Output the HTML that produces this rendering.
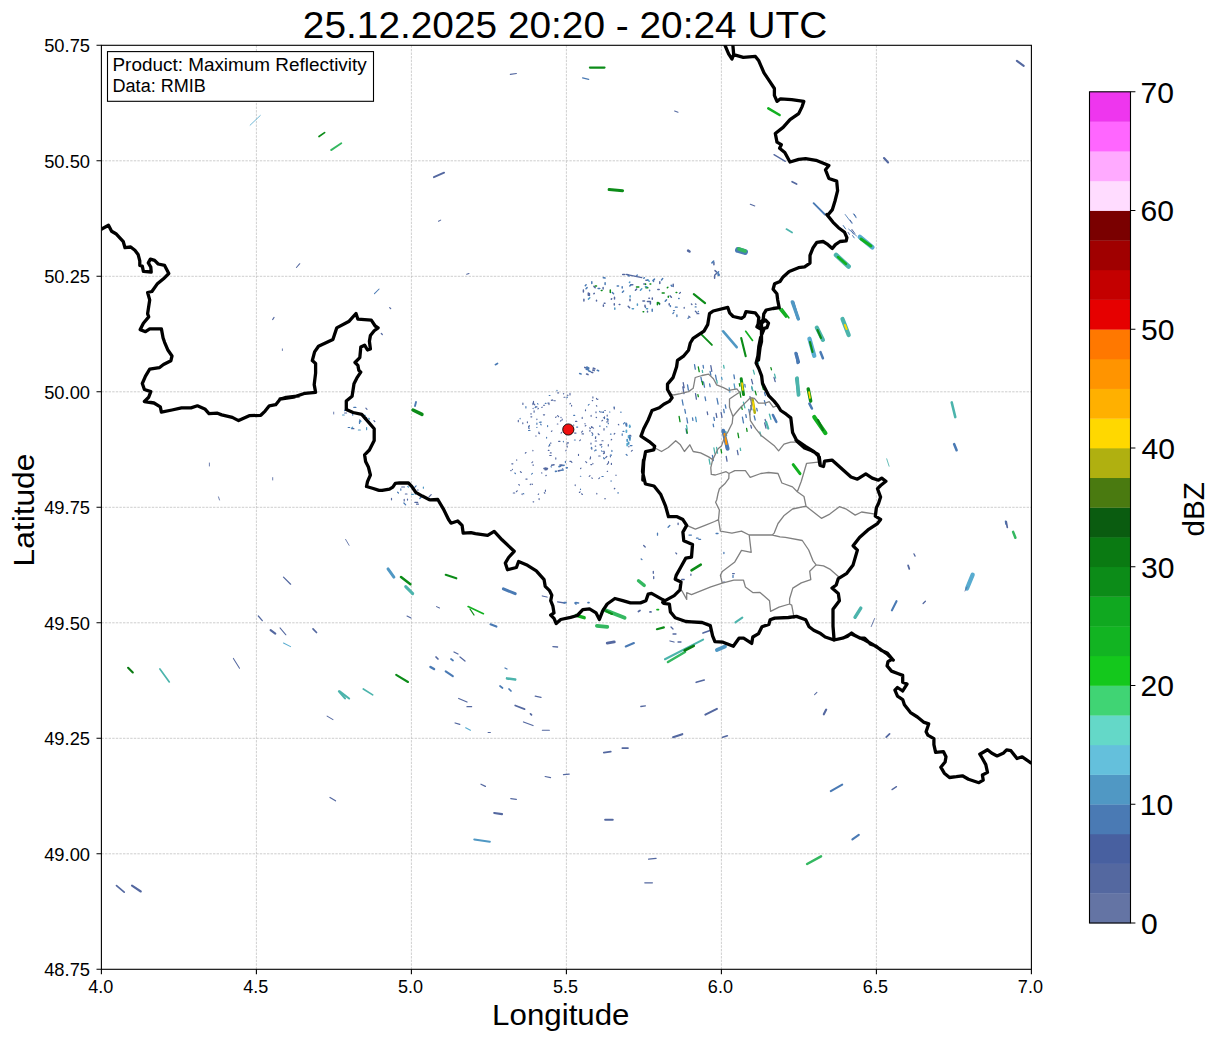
<!DOCTYPE html><html><head><meta charset="utf-8"><style>html,body{margin:0;padding:0;background:#fff;overflow:hidden}svg{display:block}text{font-family:"Liberation Sans",sans-serif;fill:#000}</style></head><body>
<svg width="1219" height="1040" viewBox="0 0 1219 1040">
<rect x="0" y="0" width="1219" height="1040" fill="#fff"/>
<path d="M256.4 45.3V969.3M411.4 45.3V969.3M566.4 45.3V969.3M721.4 45.3V969.3M876.4 45.3V969.3M101.4 853.8H1031.4M101.4 738.3H1031.4M101.4 622.8H1031.4M101.4 507.3H1031.4M101.4 391.8H1031.4M101.4 276.3H1031.4M101.4 160.8H1031.4" stroke="#bdbdbd" stroke-width="0.75" stroke-dasharray="2.4 1.2" fill="none"/>
<path d="M554.2 400.7L555.3 400.7M557.7 392.9L558.6 392.9M563.4 393.9L563.7 393.6M596.5 398.4L596.5 399.0M575.5 421.3L576.9 421.3M551.3 400.1L551.6 400.4M535.7 436.0L536.2 436.0M592.3 427.1L593.3 428.1M547.9 403.1L549.1 403.1M571.1 461.5L571.9 462.3M562.4 468.8L562.8 468.8M555.6 417.4L556.2 416.8M566.8 443.8L566.8 444.2M596.0 411.9L596.0 412.7M537.9 408.8L538.4 408.3M541.8 407.5L542.2 407.1M562.2 419.0L562.2 420.0M560.4 421.1L561.1 420.5M564.0 397.2L565.0 397.2M574.6 433.1L576.0 433.1M558.6 441.3L560.0 441.3M567.6 395.2L567.9 395.5M567.2 446.1L567.2 447.1M539.3 433.6L539.6 433.6M585.5 409.9L585.5 410.7M591.8 432.7L592.7 433.6M578.5 454.2L578.5 455.4M548.8 446.2L549.8 445.1M543.5 405.2L544.6 405.2M567.3 442.9L568.5 442.9M603.4 453.7L604.3 452.9M565.9 450.4L565.9 450.8M582.2 417.4L582.2 418.4M581.6 432.2L582.6 431.2M596.4 405.7L596.8 406.2M591.1 415.4L591.1 416.3M569.9 461.3L571.1 461.3M592.2 400.6L592.7 400.6M592.9 396.9L592.9 397.9M550.3 452.9L551.2 452.9M590.8 464.6L591.7 464.6M585.2 426.0L585.9 425.3M585.7 461.6L586.7 462.6M597.6 399.5L597.9 399.2M533.1 408.2L533.1 408.6M592.9 463.4L592.9 463.8M607.0 421.5L607.0 422.3M543.4 414.8L544.6 414.8M573.5 425.0L573.8 425.2M570.0 393.4L570.0 394.9M534.1 410.8L534.1 412.2M590.5 456.9L590.5 458.2M561.1 433.1L561.7 432.4M584.8 423.7L585.2 423.7M604.8 410.5L605.3 410.5M549.0 403.2L549.0 404.6M571.6 405.3L571.6 406.1M549.7 455.5L551.2 455.5M582.1 433.9L583.5 433.9M555.8 457.9L555.8 459.1M561.0 417.2L561.0 417.6M532.9 450.2L532.9 450.8M600.1 444.3L600.1 445.0M557.6 415.6L558.6 416.7M550.4 443.1L551.0 443.1M591.2 448.5L591.8 449.2M601.9 440.7L603.1 440.7M603.4 451.2L604.4 451.2M580.5 468.6L581.0 468.1M579.7 440.6L580.5 439.8M589.9 430.2L589.9 431.2M589.6 427.8L590.5 428.7M603.5 412.1L603.5 412.5M548.3 450.4L549.0 450.4M551.4 431.4L552.0 430.8M528.5 426.6L529.4 425.6M559.5 465.0L560.9 465.0M538.9 432.0L538.9 433.5M552.4 399.8L552.9 400.3M590.1 458.5L590.1 458.9M557.3 424.0L557.9 424.0M569.9 403.9L570.4 403.4M595.2 441.0L596.6 441.0M530.2 484.6L530.7 484.1M525.3 453.2L526.0 452.5M516.4 491.7L517.2 490.8M541.7 472.8L541.9 473.1M522.1 493.7L522.1 494.6M546.6 468.3L547.7 468.3M539.1 498.5L539.1 499.6M538.2 494.4L538.6 494.0M513.3 493.0L514.7 493.0M532.9 465.1L533.5 465.1M545.8 475.7L546.3 475.3M532.0 484.0L532.5 484.4M520.4 471.6L521.3 472.5M525.9 479.1L527.1 479.1M512.4 469.2L512.4 469.6M533.1 501.8L533.7 501.8M545.4 490.1L545.4 491.3M518.8 484.5L519.4 485.1M511.8 463.8L512.9 463.8M510.7 470.6L511.2 470.6M531.9 462.6L532.7 461.9M516.7 459.8L516.7 460.2M544.3 492.7L544.9 493.2M535.6 406.9L537.0 406.9M530.8 413.9L531.3 413.9M518.3 420.2L518.3 421.7M522.8 422.8L522.8 423.7M533.7 403.7L534.8 404.8M533.5 401.4L533.5 402.8M536.9 419.0L536.9 419.6M522.9 403.0L522.9 404.4M530.9 416.8L531.8 416.8M528.5 427.9L529.2 428.6M527.4 421.8L527.4 422.7M532.9 403.1L532.9 404.6M607.2 471.3L607.6 471.3M579.4 492.5L580.1 491.8M581.6 493.8L582.4 494.5M591.8 477.8L592.3 478.3M598.8 478.6L599.6 477.8M596.8 493.2L596.8 493.9M616.0 475.1L616.0 475.4M575.2 484.7L575.2 485.6M604.6 498.7L605.5 498.7M589.2 476.4L590.0 475.6M614.3 488.8L614.9 488.3" stroke="#5468a0" stroke-width="1.15" stroke-linecap="round" fill="none"/>
<path d="M574.4 440.0L575.3 440.0M536.9 423.1L536.9 424.3M528.9 426.8L529.4 426.8M541.0 421.7L541.0 422.4M599.6 411.4L600.1 412.0M565.4 461.2L565.4 462.6M566.8 397.7L567.5 397.1M595.7 450.1L596.3 450.1M556.9 390.4L557.1 390.7M607.2 418.6L607.2 419.2M563.4 441.4L563.4 441.8M576.6 427.1L577.7 427.1M603.4 417.7L604.3 417.7M573.7 415.4L574.7 415.4M540.6 424.2L541.2 424.9M599.5 426.1L600.2 426.1M528.5 430.5L530.0 430.5M547.6 425.6L547.6 426.6M545.3 403.4L546.0 403.4M549.2 395.5L550.0 395.5M546.6 437.2L546.6 438.1M588.3 405.2L589.1 404.4M549.6 444.4L549.6 445.6M610.4 434.1L611.1 434.1M601.5 447.1L601.9 446.7M602.7 412.3L603.3 411.8M551.0 466.6L551.4 467.0M531.6 474.1L532.4 473.4M514.8 473.0L515.5 473.7M523.3 493.5L523.8 493.9M539.4 422.2L540.4 422.2M537.5 403.7L538.0 404.2M536.8 427.5L537.0 427.3M535.1 407.7L535.8 407.0M520.1 418.3L520.1 418.8M525.9 406.5L525.9 407.9M617.8 492.9L618.4 492.9M580.4 476.2L580.8 476.2M610.8 481.0L611.5 481.0M601.9 476.5L603.2 476.5M580.5 489.1L580.5 489.5" stroke="#4a7ab4" stroke-width="1.15" stroke-linecap="round" fill="none"/>
<path d="M622.2 433.9L622.2 435.3M608.3 423.0L608.3 423.7M623.0 431.4L623.9 431.4M606.6 426.6L606.9 426.9M620.7 412.2L621.1 412.2M607.1 419.3L608.3 419.3M603.9 458.7L604.6 458.7M614.1 406.9L614.1 407.8M603.7 457.5L603.7 458.1M623.5 423.9L624.7 422.7M629.4 436.0L631.1 436.0M591.4 447.5L592.0 448.1M609.5 412.0L609.9 412.0M592.2 435.3L592.8 434.7M601.5 450.9L602.1 451.4M630.3 445.6L632.0 445.6M594.7 450.8L595.4 450.1M595.8 436.8L595.8 437.1M626.2 454.5L627.1 455.3M610.3 455.2L611.5 455.2M611.9 450.4L611.9 451.4M352.7 413.2L352.7 415.2M359.7 420.0L360.4 420.7M348.2 427.5L349.7 427.5M344.6 410.5L345.8 409.3M353.8 407.4L355.9 407.4M359.5 421.2L359.5 423.5M403.9 503.0L405.7 504.8M419.8 498.5L421.3 497.0M397.6 492.2L398.5 493.0M414.7 487.3L416.1 485.9M400.8 488.8L400.8 490.2" stroke="#4a7ab4" stroke-width="1.2" stroke-linecap="round" fill="none"/>
<path d="M611.4 463.4L611.4 464.5M607.9 420.3L607.9 421.3M595.3 446.2L595.7 446.2M614.2 434.0L614.8 433.4M596.1 417.3L596.5 417.6M604.0 428.6L604.0 430.1M595.5 437.2L595.5 438.5M601.9 420.9L602.6 420.3M629.4 435.3L630.6 435.3M607.2 464.3L608.3 463.2M600.9 412.0L601.5 412.0M631.4 451.2L632.3 450.3M614.3 407.5L614.3 409.0M618.4 424.4L618.8 424.8M628.9 446.4L628.9 446.8M591.5 426.6L591.5 427.6M598.7 456.0L600.1 456.0M591.0 443.2L591.0 444.1M598.1 433.8L599.1 434.7M604.5 416.9L604.5 418.6M608.5 461.7L608.5 462.8M605.7 457.6L606.8 456.5M604.2 452.2L604.2 453.2M600.9 445.0L601.6 444.4M610.4 456.4L610.4 456.8M629.5 426.7L630.2 426.7M607.2 415.2L607.2 416.1M611.2 439.9L611.6 439.5M608.3 444.7L608.3 446.0M373.9 420.6L374.8 421.5M351.6 428.7L353.9 428.7M365.9 408.2L367.0 409.3M344.6 413.0L346.6 413.0M364.6 419.3L366.6 417.3M414.9 502.4L417.7 502.4M404.2 499.3L404.2 500.9M401.7 487.0L404.5 487.0M405.4 494.0L407.0 494.0M429.2 496.7L431.2 494.6M417.3 490.0L418.2 490.0M416.5 504.2L418.4 504.2M407.5 499.2L407.5 500.1M391.5 498.3L391.5 499.8" stroke="#5468a0" stroke-width="1.2" stroke-linecap="round" fill="none"/>
<path d="M629.7 425.4L629.7 427.0M626.4 430.3L626.4 432.1M627.2 443.7L627.2 445.6M628.6 435.8L628.6 437.3" stroke="#58acd0" stroke-width="1.8" stroke-linecap="round" fill="none"/>
<path d="M627.2 439.6L627.2 441.0M629.9 436.9L629.9 439.9M628.6 442.5L628.6 443.9" stroke="#5098c4" stroke-width="1.8" stroke-linecap="round" fill="none"/>
<path d="M626.1 423.5L626.1 425.1M626.5 423.9L626.5 425.9M629.6 437.3L629.6 438.3" stroke="#4a7ab4" stroke-width="1.8" stroke-linecap="round" fill="none"/>
<path d="M584.8 367.4L587.2 368.2M591.6 372.2L592.7 372.6M593.3 368.2L594.9 368.8M592.8 370.1L594.2 370.6M587.3 368.3L588.2 368.6M586.6 374.1L588.0 374.6M560.7 465.4L562.1 465.1M545.1 469.7L547.0 469.4M558.4 470.9L560.2 470.5M551.6 465.2L554.0 464.8M544.0 468.5L546.0 468.1" stroke="#5468a0" stroke-width="1.6" stroke-linecap="round" fill="none"/>
<path d="M597.3 370.3L598.6 370.8M588.9 370.9L590.3 371.4M586.3 369.2L588.7 370.0M586.9 367.4L588.8 368.1M586.8 367.1L588.7 367.9M579.7 373.5L581.1 374.0M555.5 471.4L556.5 471.2M561.1 470.3L563.2 470.0M566.4 467.9L567.3 467.7M562.9 465.5L564.1 465.3M559.0 466.6L560.5 466.3" stroke="#4a7ab4" stroke-width="1.6" stroke-linecap="round" fill="none"/>
<path d="M669.2 303.8L669.2 305.1M648.9 298.2L649.4 298.2M603.1 287.4L603.1 289.1M630.8 284.7L632.8 284.7M652.3 298.1L652.3 299.2M596.5 300.3L596.5 301.1M659.5 303.3L659.5 304.6M583.4 290.0L583.4 292.0M630.0 299.3L630.0 300.7M611.3 299.1L611.7 298.7M647.5 311.2L647.5 312.0M657.8 289.5L659.2 289.5M614.3 303.7L614.3 305.0M619.2 304.5L619.9 304.5M643.8 284.1L645.0 284.1M642.9 301.0L644.5 301.0M659.8 281.7L659.8 283.5M645.0 305.2L645.0 306.6M650.4 301.5L650.4 304.0M628.2 306.2L629.6 307.7M614.5 297.3L614.5 299.1M603.4 305.1L603.4 306.2M670.2 295.9L671.4 297.2M593.9 293.7L594.3 293.4M589.4 293.4L589.4 295.4M635.4 290.2L636.6 289.1M647.4 301.6L649.6 301.6M583.9 299.3L583.9 301.1M593.9 286.4L595.2 287.7M645.9 280.2L648.0 280.2M588.3 292.9L588.3 295.2M622.7 274.4L624.5 274.4M604.2 303.3L605.0 303.3M673.2 284.2L673.2 286.6M645.1 306.7L645.5 307.1M714.6 276.3L714.6 278.2M714.7 275.2L716.4 273.5M713.9 262.5L713.9 264.7M715.0 270.6L716.4 271.9" stroke="#5468a0" stroke-width="1.5" stroke-linecap="round" fill="none"/>
<path d="M617.2 286.1L618.5 286.1M612.3 292.5L613.6 293.8M643.8 278.3L644.4 277.7M652.2 309.2L652.2 311.2M665.2 301.2L666.5 299.9M622.4 292.2L623.6 291.0M605.1 282.7L605.1 284.6M627.6 274.6L629.0 276.1M661.5 279.9L662.7 278.6M670.4 305.7L670.4 306.4M653.5 280.4L653.5 281.5M629.8 285.9L630.7 284.9M598.1 288.4L599.8 288.4M671.2 285.4L672.0 286.2M585.3 285.6L586.1 284.8M591.8 281.7L591.8 283.6M622.2 286.7L622.2 288.0M636.8 275.6L637.2 275.1M649.6 290.2L649.6 290.7M652.9 280.6L654.5 279.1M586.0 288.7L587.1 287.6M718.1 272.7L718.1 275.2M719.1 274.2L719.1 275.6M711.9 262.9L713.7 261.1M717.6 272.8L718.6 271.7" stroke="#4a7ab4" stroke-width="1.5" stroke-linecap="round" fill="none"/>
<path d="M643.1 311.8L643.7 311.8M658.2 302.5L659.5 303.7M610.3 290.0L610.3 292.4M676.1 292.5L676.8 292.5M595.3 286.1L596.5 286.1M636.5 287.0L638.8 287.0M645.6 284.0L645.6 284.6M668.3 296.2L668.3 297.2M650.0 283.9L650.8 283.9M601.3 290.6L602.0 290.6M645.9 287.7L647.9 287.7M667.3 287.8L667.9 287.2M662.2 293.0L664.2 293.0M657.4 302.5L657.4 304.7" stroke="#0c8c18" stroke-width="1.5" stroke-linecap="round" fill="none"/>
<path d="M632.2 308.7L633.5 308.7M640.4 290.2L641.8 288.8M637.4 304.0L637.4 305.2M614.8 307.9L614.8 309.2M645.4 286.8L646.9 286.8M629.4 282.5L629.8 282.1M630.1 295.7L630.1 296.9M646.4 308.8L647.6 308.8M588.4 299.1L589.8 297.8M647.7 279.8L649.2 281.3" stroke="#5098c4" stroke-width="1.5" stroke-linecap="round" fill="none"/>
<path d="M672.9 313.5L673.7 312.6M695.2 306.9L696.1 306.9M698.3 311.3L698.3 311.7M688.0 318.3L688.6 317.8M678.6 298.5L679.2 298.5M676.9 314.8L676.9 316.5M675.4 307.2L677.2 307.2M673.5 310.6L674.5 310.6M748.8 409.3L749.8 414.6M713.9 417.4L714.4 420.4M715.5 375.1L716.5 380.4M705.0 396.8L705.7 400.5M712.4 455.4L713.3 460.5M725.3 404.8L725.9 408.1M713.2 424.1L713.6 426.6M733.9 374.8L734.5 378.6M710.1 371.4L710.8 375.1M687.5 384.8L688.4 390.1M709.6 383.8L710.1 386.7M692.5 417.8L692.9 420.4M723.7 409.5L724.2 412.6M686.0 428.7L686.7 433.1M682.2 400.0L683.1 405.0M744.8 384.3L745.2 387.0M703.5 381.9L704.5 387.2M694.5 364.7L695.3 369.2M703.1 365.3L703.5 368.0M684.8 409.3L685.5 413.2M745.8 414.6L746.3 417.4M686.8 418.0L687.6 422.9M717.0 398.5L718.1 404.2M742.4 417.1L743.5 422.9M700.9 377.1L701.8 381.7M751.7 387.5L752.6 390.6M764.4 400.6L765.6 405.1M764.5 392.5L765.4 395.6M754.2 416.0L755.2 420.0M756.7 408.5L757.3 410.9M750.7 405.5L751.9 409.8M696.5 538.2L698.1 538.2M668.1 527.2L669.8 525.5M733.0 575.3L733.0 577.4M689.0 535.1L691.4 535.1M657.5 533.1L657.5 535.2M698.8 539.3L700.6 539.3M716.1 533.5L718.0 533.5M723.9 552.5L723.9 553.6M641.2 558.9L641.9 559.5" stroke="#4a7ab4" stroke-width="1.3" stroke-linecap="round" fill="none"/>
<path d="M688.7 316.1L689.9 317.3M697.0 313.7L698.8 313.7M679.5 293.4L680.4 292.5M695.4 311.2L696.8 312.6M691.4 304.0L691.9 304.5M695.5 303.9L695.9 304.3M684.2 307.5L684.2 308.2M707.2 411.9L707.7 414.5M726.2 456.4L727.0 461.2M695.5 393.7L696.4 399.2M683.4 390.6L684.0 393.6M710.8 365.7L711.8 371.3M682.8 386.8L683.8 392.3M737.3 450.5L738.1 454.7M716.1 413.4L716.8 417.4M683.2 382.6L684.1 387.7M721.1 412.5L722.0 417.3M725.7 444.0L726.6 449.5M765.1 419.5L765.7 421.6M750.0 396.6L751.0 400.2M751.5 379.4L752.7 383.9M750.8 425.3L751.5 428.0M764.7 423.0L766.0 428.1M756.5 363.3L757.5 366.8M774.0 377.3L775.2 381.7M678.1 523.1L678.1 524.5M732.6 573.6L734.3 573.6M723.4 582.1L724.7 582.1M643.7 545.5L645.2 547.0M681.7 579.5L684.2 579.5M690.9 574.1L690.9 575.3M675.8 552.9L676.6 553.7M653.7 576.6L653.7 578.5M653.3 571.3L653.3 573.3" stroke="#5468a0" stroke-width="1.3" stroke-linecap="round" fill="none"/>
<path d="M725.6 441.6L726.1 444.2M723.6 365.3L724.1 368.1M709.1 459.1L710.0 464.1M713.9 448.0L714.9 453.5M686.5 425.4L687.2 429.1M702.3 370.4L702.6 372.4M716.7 380.3L717.2 383.0M716.6 447.5L717.5 453.1M725.8 431.3L726.6 435.6M740.2 448.2L740.6 450.4M743.4 402.2L744.9 407.8M769.4 414.2L770.3 417.3M753.3 370.1L754.4 374.1M774.5 374.1L775.6 378.2M757.6 360.0L758.5 363.4M769.6 414.5L770.9 419.3M759.9 432.0L761.0 436.2M751.7 386.3L752.8 390.3" stroke="#4cb4ac" stroke-width="1.3" stroke-linecap="round" fill="none"/>
<path d="M679.1 416.3L680.0 421.7M737.9 433.1L738.7 437.6M739.3 383.7L739.8 386.1M746.6 428.5L747.1 431.3M697.9 394.6L698.3 396.7M739.9 391.9L740.8 397.2M721.0 449.4L721.6 452.8M698.3 366.8L699.2 371.7M702.1 381.4L702.7 384.7M686.7 429.8L687.3 433.2M741.4 406.3L742.2 409.3M761.9 384.3L763.4 389.7M770.9 367.7L771.5 369.9M755.2 391.2L756.2 394.9" stroke="#0c8c18" stroke-width="1.3" stroke-linecap="round" fill="none"/>
<path d="M695.6 417.1L696.4 421.6M729.2 387.9L729.9 392.2M721.6 377.3L722.0 379.5M734.1 383.8L735.0 389.0" stroke="#5098c4" stroke-width="1.3" stroke-linecap="round" fill="none"/>
<path d="M358.4 430.0L360.3 430.0M363.7 415.3L365.3 415.3M342.6 415.0L344.2 415.0M366.6 427.6L366.6 429.7M368.7 418.3L369.5 419.0M351.4 428.4L352.7 427.1M360.1 422.0L361.0 421.2M415.3 493.2L415.3 494.3M423.4 487.1L423.4 488.2M411.6 494.4L413.3 494.4M407.7 486.3L408.5 487.1" stroke="#5098c4" stroke-width="1.2" stroke-linecap="round" fill="none"/>
<path d="M854.1 214.1L855.7 216.4M851.1 230.6L853.6 234.1M850.1 220.0L852.0 222.8M851.9 229.4L854.8 233.4M848.1 232.4L849.4 234.4" stroke="#5468a0" stroke-width="1" stroke-linecap="round" fill="none"/>
<path d="M843.2 225.5L845.6 228.9M852.6 235.6L854.2 237.9M853.6 214.0L856.2 217.8" stroke="#4a7ab4" stroke-width="1" stroke-linecap="round" fill="none"/>
<path d="M250.1 125.2L260.3 115.5" stroke="#58acd0" stroke-width="0.85" stroke-linecap="round" fill="none"/>
<path d="M319.0 136.5L324.6 132.6" stroke="#0c8c18" stroke-width="1.70" stroke-linecap="round" fill="none"/>
<path d="M331.1 150.1L341.3 143.3" stroke="#34b860" stroke-width="1.87" stroke-linecap="round" fill="none"/>
<path d="M296.4 267.5L299.8 263.7" stroke="#5468a0" stroke-width="1.02" stroke-linecap="round" fill="none"/>
<path d="M433.9 177.2L444.1 172.7" stroke="#5468a0" stroke-width="1.87" stroke-linecap="round" fill="none"/>
<path d="M510.3 74.4L516.4 73.5" stroke="#5468a0" stroke-width="1.10" stroke-linecap="round" fill="none"/>
<path d="M438.5 221.2L440.7 220.1" stroke="#5468a0" stroke-width="1.02" stroke-linecap="round" fill="none"/>
<path d="M466.7 274.3L469.0 273.6" stroke="#5468a0" stroke-width="1.02" stroke-linecap="round" fill="none"/>
<path d="M589.9 67.6L604.5 67.6" stroke="#0c8c18" stroke-width="2.21" stroke-linecap="round" fill="none"/>
<path d="M582.6 77.8L588.7 79.3" stroke="#4a7ab4" stroke-width="1.27" stroke-linecap="round" fill="none"/>
<path d="M674.6 111.0L678.0 112.3" stroke="#5468a0" stroke-width="1.02" stroke-linecap="round" fill="none"/>
<path d="M609.1 189.6L622.6 190.7" stroke="#0c8c18" stroke-width="2.98" stroke-linecap="round" fill="none"/>
<path d="M688.1 250.6L689.5 251.5" stroke="#5468a0" stroke-width="2.55" stroke-linecap="round" fill="none"/>
<path d="M738.0 250.0L745.0 252.0" stroke="#4a7ab4" stroke-width="5.95" stroke-linecap="round" fill="none"/>
<path d="M739.0 249.0L745.0 251.0" stroke="#34b860" stroke-width="3.82" stroke-linecap="round" fill="none"/>
<path d="M768.3 108.3L779.6 115.0" stroke="#12b020" stroke-width="2.55" stroke-linecap="round" fill="none"/>
<path d="M774.0 154.6L785.3 161.4" stroke="#5468a0" stroke-width="1.27" stroke-linecap="round" fill="none"/>
<path d="M792.1 181.7L796.6 184.0" stroke="#5468a0" stroke-width="1.70" stroke-linecap="round" fill="none"/>
<path d="M750.3 204.3L754.8 205.9" stroke="#5468a0" stroke-width="1.10" stroke-linecap="round" fill="none"/>
<path d="M786.4 229.1L792.1 232.5" stroke="#4cb4ac" stroke-width="1.70" stroke-linecap="round" fill="none"/>
<path d="M603.4 277.7L605.0 278.0" stroke="#4a7ab4" stroke-width="1.70" stroke-linecap="round" fill="none"/>
<path d="M626.0 274.3L641.8 277.7" stroke="#5468a0" stroke-width="1.27" stroke-linecap="round" fill="none"/>
<path d="M1016.9 60.8L1023.7 65.8" stroke="#5468a0" stroke-width="2.12" stroke-linecap="round" fill="none"/>
<path d="M884.0 158.0L888.1 162.5" stroke="#5468a0" stroke-width="2.12" stroke-linecap="round" fill="none"/>
<path d="M813.6 203.2L824.9 214.5" stroke="#4a7ab4" stroke-width="1.87" stroke-linecap="round" fill="none"/>
<path d="M845.2 214.5L852.0 223.5" stroke="#4a7ab4" stroke-width="0.85" stroke-linecap="round" fill="none"/>
<path d="M848.6 229.1L856.5 235.9" stroke="#4a7ab4" stroke-width="0.85" stroke-linecap="round" fill="none"/>
<path d="M859.9 237.0L872.3 247.2" stroke="#58acd0" stroke-width="4.67" stroke-linecap="round" fill="none"/>
<path d="M861.0 239.0L871.0 246.0" stroke="#12b020" stroke-width="2.98" stroke-linecap="round" fill="none"/>
<path d="M836.1 255.1L848.6 266.4" stroke="#4cb4ac" stroke-width="4.67" stroke-linecap="round" fill="none"/>
<path d="M838.0 257.0L846.0 264.0" stroke="#12b020" stroke-width="2.55" stroke-linecap="round" fill="none"/>
<path d="M272.7 319.5L274.0 317.5" stroke="#5468a0" stroke-width="1.27" stroke-linecap="round" fill="none"/>
<path d="M282.4 348.9L282.4 350.5" stroke="#5468a0" stroke-width="0.85" stroke-linecap="round" fill="none"/>
<path d="M209.4 463.0L209.4 466.0" stroke="#5468a0" stroke-width="0.85" stroke-linecap="round" fill="none"/>
<path d="M272.7 477.6L272.7 480.0" stroke="#5468a0" stroke-width="0.85" stroke-linecap="round" fill="none"/>
<path d="M218.5 496.9L219.5 500.0" stroke="#5468a0" stroke-width="0.85" stroke-linecap="round" fill="none"/>
<path d="M333.7 412.1L333.7 414.0" stroke="#5468a0" stroke-width="0.85" stroke-linecap="round" fill="none"/>
<path d="M374.5 293.6L379.1 289.0" stroke="#4a7ab4" stroke-width="1.02" stroke-linecap="round" fill="none"/>
<path d="M389.7 307.6L390.7 308.6" stroke="#5468a0" stroke-width="1.27" stroke-linecap="round" fill="none"/>
<path d="M381.3 333.5L382.3 334.5" stroke="#5468a0" stroke-width="1.27" stroke-linecap="round" fill="none"/>
<path d="M413.0 410.0L422.0 414.4" stroke="#0c8c18" stroke-width="3.40" stroke-linecap="round" fill="none"/>
<path d="M415.0 406.0L416.0 402.0" stroke="#4a7ab4" stroke-width="1.87" stroke-linecap="round" fill="none"/>
<path d="M495.4 364.7L497.5 363.5" stroke="#4a7ab4" stroke-width="1.70" stroke-linecap="round" fill="none"/>
<path d="M693.8 294.1L705.1 303.1" stroke="#0c8c18" stroke-width="2.12" stroke-linecap="round" fill="none"/>
<path d="M700.6 333.6L711.9 344.9" stroke="#0c8c18" stroke-width="1.87" stroke-linecap="round" fill="none"/>
<path d="M723.2 331.3L736.7 347.2" stroke="#5098c4" stroke-width="2.55" stroke-linecap="round" fill="none"/>
<path d="M741.2 338.1L745.7 356.2" stroke="#0c8c18" stroke-width="2.12" stroke-linecap="round" fill="none"/>
<path d="M745.7 331.3L752.5 340.4" stroke="#12b020" stroke-width="1.70" stroke-linecap="round" fill="none"/>
<path d="M741.2 378.8L743.5 394.6" stroke="#0c8c18" stroke-width="2.98" stroke-linecap="round" fill="none"/>
<path d="M742.0 383.0L742.8 390.0" stroke="#ffd800" stroke-width="1.70" stroke-linecap="round" fill="none"/>
<path d="M752.5 399.1L754.8 412.7" stroke="#b0b010" stroke-width="2.55" stroke-linecap="round" fill="none"/>
<path d="M753.0 402.0L754.0 409.0" stroke="#ffd800" stroke-width="1.53" stroke-linecap="round" fill="none"/>
<path d="M723.2 430.7L727.7 448.8" stroke="#4a7ab4" stroke-width="3.82" stroke-linecap="round" fill="none"/>
<path d="M724.5 434.0L726.5 444.0" stroke="#ff9400" stroke-width="2.12" stroke-linecap="round" fill="none"/>
<path d="M772.9 415.0L776.3 421.8" stroke="#4a7ab4" stroke-width="2.55" stroke-linecap="round" fill="none"/>
<path d="M766.1 421.8L768.3 428.6" stroke="#4cb4ac" stroke-width="2.12" stroke-linecap="round" fill="none"/>
<path d="M796.6 354.0L797.7 363.0" stroke="#4a7ab4" stroke-width="2.55" stroke-linecap="round" fill="none"/>
<path d="M796.6 378.8L798.8 394.6" stroke="#4cb4ac" stroke-width="3.40" stroke-linecap="round" fill="none"/>
<path d="M797.0 382.0L798.0 390.0" stroke="#0c8c18" stroke-width="1.87" stroke-linecap="round" fill="none"/>
<path d="M793.2 302.0L797.7 317.8" stroke="#4a7ab4" stroke-width="2.55" stroke-linecap="round" fill="none"/>
<path d="M782.0 308.7L788.8 317.8" stroke="#12b020" stroke-width="1.70" stroke-linecap="round" fill="none"/>
<path d="M793.2 464.6L800.0 473.7" stroke="#12b020" stroke-width="2.98" stroke-linecap="round" fill="none"/>
<path d="M792.3 301.9L798.4 319.0" stroke="#5098c4" stroke-width="3.40" stroke-linecap="round" fill="none"/>
<path d="M780.0 309.2L786.1 316.6" stroke="#12b020" stroke-width="2.55" stroke-linecap="round" fill="none"/>
<path d="M842.5 319.0L848.7 335.0" stroke="#4cb4ac" stroke-width="4.25" stroke-linecap="round" fill="none"/>
<path d="M845.0 325.0L846.5 329.0" stroke="#ffd800" stroke-width="2.12" stroke-linecap="round" fill="none"/>
<path d="M816.8 327.6L822.9 339.9" stroke="#4cb4ac" stroke-width="4.25" stroke-linecap="round" fill="none"/>
<path d="M817.5 330.0L821.0 338.0" stroke="#0c8c18" stroke-width="2.12" stroke-linecap="round" fill="none"/>
<path d="M809.4 338.7L814.3 355.8" stroke="#58acd0" stroke-width="4.25" stroke-linecap="round" fill="none"/>
<path d="M810.0 342.0L812.5 352.0" stroke="#0c8c18" stroke-width="2.12" stroke-linecap="round" fill="none"/>
<path d="M820.5 352.1L822.9 358.3" stroke="#4a7ab4" stroke-width="2.55" stroke-linecap="round" fill="none"/>
<path d="M795.9 353.4L798.4 362.0" stroke="#4a7ab4" stroke-width="3.40" stroke-linecap="round" fill="none"/>
<path d="M797.2 377.9L798.4 395.1" stroke="#4cb4ac" stroke-width="3.40" stroke-linecap="round" fill="none"/>
<path d="M808.2 388.9L810.7 401.2" stroke="#0c8c18" stroke-width="3.40" stroke-linecap="round" fill="none"/>
<path d="M809.0 392.0L810.0 398.0" stroke="#ffd800" stroke-width="1.70" stroke-linecap="round" fill="none"/>
<path d="M809.4 403.6L811.9 408.5" stroke="#4a7ab4" stroke-width="2.55" stroke-linecap="round" fill="none"/>
<path d="M814.3 417.1L825.4 433.1" stroke="#12b020" stroke-width="4.25" stroke-linecap="round" fill="none"/>
<path d="M818.0 420.0L823.0 430.0" stroke="#0a7a12" stroke-width="2.12" stroke-linecap="round" fill="none"/>
<path d="M951.7 402.4L955.3 417.1" stroke="#4cb4ac" stroke-width="2.55" stroke-linecap="round" fill="none"/>
<path d="M954.1 444.1L956.6 450.2" stroke="#4a7ab4" stroke-width="2.55" stroke-linecap="round" fill="none"/>
<path d="M886.7 458.8L889.1 466.2" stroke="#4cb4ac" stroke-width="0.85" stroke-linecap="round" fill="none"/>
<path d="M1005.6 521.4L1006.0 524.0" stroke="#4a7ab4" stroke-width="1.70" stroke-linecap="round" fill="none"/>
<path d="M128.1 667.8L132.8 672.5" stroke="#0a7a12" stroke-width="2.12" stroke-linecap="round" fill="none"/>
<path d="M159.9 669.0L169.3 681.9" stroke="#4cb4ac" stroke-width="1.70" stroke-linecap="round" fill="none"/>
<path d="M233.4 658.4L239.5 668.3" stroke="#5468a0" stroke-width="1.02" stroke-linecap="round" fill="none"/>
<path d="M283.5 577.1L290.6 584.2" stroke="#5468a0" stroke-width="1.27" stroke-linecap="round" fill="none"/>
<path d="M258.3 616.0L262.3 620.7" stroke="#5468a0" stroke-width="1.27" stroke-linecap="round" fill="none"/>
<path d="M270.6 630.1L275.3 633.6" stroke="#5468a0" stroke-width="2.12" stroke-linecap="round" fill="none"/>
<path d="M280.0 627.8L285.9 634.8" stroke="#5468a0" stroke-width="1.02" stroke-linecap="round" fill="none"/>
<path d="M283.5 643.0L290.6 646.6" stroke="#58acd0" stroke-width="1.02" stroke-linecap="round" fill="none"/>
<path d="M313.0 628.9L316.5 632.5" stroke="#5468a0" stroke-width="1.70" stroke-linecap="round" fill="none"/>
<path d="M338.9 691.3L345.0 698.4" stroke="#4cb4ac" stroke-width="2.12" stroke-linecap="round" fill="none"/>
<path d="M327.1 716.1L333.0 719.6" stroke="#5468a0" stroke-width="1.02" stroke-linecap="round" fill="none"/>
<path d="M345.6 539.4L349.1 545.3" stroke="#5468a0" stroke-width="0.85" stroke-linecap="round" fill="none"/>
<path d="M388.0 568.9L393.9 577.1" stroke="#5098c4" stroke-width="2.98" stroke-linecap="round" fill="none"/>
<path d="M401.0 577.1L410.4 584.2" stroke="#0c8c18" stroke-width="2.55" stroke-linecap="round" fill="none"/>
<path d="M405.7 586.6L412.7 593.6" stroke="#4cb4ac" stroke-width="2.98" stroke-linecap="round" fill="none"/>
<path d="M445.7 574.8L456.3 578.3" stroke="#0c8c18" stroke-width="2.12" stroke-linecap="round" fill="none"/>
<path d="M468.1 606.6L483.4 613.7" stroke="#12b020" stroke-width="1.70" stroke-linecap="round" fill="none"/>
<path d="M470.0 609.0L474.0 615.0" stroke="#0c8c18" stroke-width="1.27" stroke-linecap="round" fill="none"/>
<path d="M503.4 588.9L515.2 593.6" stroke="#4a7ab4" stroke-width="2.98" stroke-linecap="round" fill="none"/>
<path d="M490.5 624.3L496.4 626.6" stroke="#4a7ab4" stroke-width="2.12" stroke-linecap="round" fill="none"/>
<path d="M436.5 606.6L439.5 608.0" stroke="#5468a0" stroke-width="1.02" stroke-linecap="round" fill="none"/>
<path d="M407.0 616.0L411.0 618.0" stroke="#5468a0" stroke-width="1.02" stroke-linecap="round" fill="none"/>
<path d="M436.0 657.0L438.0 659.0" stroke="#5468a0" stroke-width="1.70" stroke-linecap="round" fill="none"/>
<path d="M451.0 659.0L453.0 660.5" stroke="#4a7ab4" stroke-width="1.70" stroke-linecap="round" fill="none"/>
<path d="M454.0 652.0L458.0 654.0" stroke="#5468a0" stroke-width="1.27" stroke-linecap="round" fill="none"/>
<path d="M460.0 657.0L465.0 661.0" stroke="#5468a0" stroke-width="1.27" stroke-linecap="round" fill="none"/>
<path d="M430.5 667.0L434.0 669.0" stroke="#4a7ab4" stroke-width="2.55" stroke-linecap="round" fill="none"/>
<path d="M445.7 671.4L452.8 676.1" stroke="#4a7ab4" stroke-width="2.12" stroke-linecap="round" fill="none"/>
<path d="M396.2 674.9L408.0 682.0" stroke="#0c8c18" stroke-width="2.12" stroke-linecap="round" fill="none"/>
<path d="M363.3 689.0L372.7 694.9" stroke="#4cb4ac" stroke-width="1.70" stroke-linecap="round" fill="none"/>
<path d="M339.7 691.4L349.1 698.5" stroke="#4cb4ac" stroke-width="2.12" stroke-linecap="round" fill="none"/>
<path d="M507.0 678.4L515.2 679.6" stroke="#4cb4ac" stroke-width="2.55" stroke-linecap="round" fill="none"/>
<path d="M500.0 686.0L502.5 688.0" stroke="#4a7ab4" stroke-width="1.70" stroke-linecap="round" fill="none"/>
<path d="M509.0 689.0L511.0 691.0" stroke="#4a7ab4" stroke-width="1.70" stroke-linecap="round" fill="none"/>
<path d="M505.0 668.0L507.0 669.0" stroke="#4a7ab4" stroke-width="1.27" stroke-linecap="round" fill="none"/>
<path d="M458.7 698.5L467.0 702.0" stroke="#5468a0" stroke-width="1.27" stroke-linecap="round" fill="none"/>
<path d="M467.0 706.7L471.6 706.7" stroke="#5468a0" stroke-width="1.27" stroke-linecap="round" fill="none"/>
<path d="M515.2 705.5L524.6 709.1" stroke="#5468a0" stroke-width="1.70" stroke-linecap="round" fill="none"/>
<path d="M535.2 696.1L541.0 697.3" stroke="#5468a0" stroke-width="1.27" stroke-linecap="round" fill="none"/>
<path d="M530.5 713.8L531.5 714.8" stroke="#5468a0" stroke-width="1.70" stroke-linecap="round" fill="none"/>
<path d="M455.1 723.0L459.8 724.3" stroke="#5468a0" stroke-width="1.27" stroke-linecap="round" fill="none"/>
<path d="M465.7 727.8L470.4 730.2" stroke="#58acd0" stroke-width="1.27" stroke-linecap="round" fill="none"/>
<path d="M523.5 722.0L533.0 725.5" stroke="#5468a0" stroke-width="1.27" stroke-linecap="round" fill="none"/>
<path d="M542.3 730.2L549.4 730.2" stroke="#5468a0" stroke-width="1.02" stroke-linecap="round" fill="none"/>
<path d="M488.1 732.6L490.4 732.6" stroke="#5468a0" stroke-width="1.02" stroke-linecap="round" fill="none"/>
<path d="M542.3 596.0L547.0 597.0" stroke="#5468a0" stroke-width="1.27" stroke-linecap="round" fill="none"/>
<path d="M557.6 601.9L564.7 603.0" stroke="#5468a0" stroke-width="1.27" stroke-linecap="round" fill="none"/>
<path d="M575.0 603.0L576.0 604.0" stroke="#4a7ab4" stroke-width="1.70" stroke-linecap="round" fill="none"/>
<path d="M552.9 646.6L557.6 647.0" stroke="#5468a0" stroke-width="1.27" stroke-linecap="round" fill="none"/>
<path d="M691.5 570.4L700.8 564.6" stroke="#0c8c18" stroke-width="2.55" stroke-linecap="round" fill="none"/>
<path d="M638.5 580.8L644.2 585.4" stroke="#34b860" stroke-width="3.40" stroke-linecap="round" fill="none"/>
<path d="M576.2 615.4L584.2 617.7" stroke="#12b020" stroke-width="3.40" stroke-linecap="round" fill="none"/>
<path d="M603.8 609.6L624.6 617.7" stroke="#34b860" stroke-width="3.82" stroke-linecap="round" fill="none"/>
<path d="M606.0 611.0L612.0 614.0" stroke="#0c8c18" stroke-width="2.12" stroke-linecap="round" fill="none"/>
<path d="M596.9 625.8L607.3 626.9" stroke="#34b860" stroke-width="3.82" stroke-linecap="round" fill="none"/>
<path d="M607.3 643.1L614.2 641.9" stroke="#5468a0" stroke-width="2.98" stroke-linecap="round" fill="none"/>
<path d="M625.8 646.5L633.9 643.1" stroke="#4a7ab4" stroke-width="2.12" stroke-linecap="round" fill="none"/>
<path d="M656.9 629.2L663.9 627.4" stroke="#0c8c18" stroke-width="2.12" stroke-linecap="round" fill="none"/>
<path d="M665.0 659.2L703.1 639.6" stroke="#4cb4ac" stroke-width="2.12" stroke-linecap="round" fill="none"/>
<path d="M668.0 662.0L685.0 652.0" stroke="#34b860" stroke-width="2.55" stroke-linecap="round" fill="none"/>
<path d="M684.6 650.5L693.8 645.9" stroke="#0a7a12" stroke-width="2.55" stroke-linecap="round" fill="none"/>
<path d="M716.9 650.0L725.0 646.5" stroke="#5098c4" stroke-width="3.82" stroke-linecap="round" fill="none"/>
<path d="M703.0 633.0L710.0 630.5" stroke="#5468a0" stroke-width="1.70" stroke-linecap="round" fill="none"/>
<path d="M735.4 622.3L742.3 617.7" stroke="#4cb4ac" stroke-width="2.12" stroke-linecap="round" fill="none"/>
<path d="M696.2 682.3L704.2 680.0" stroke="#5468a0" stroke-width="1.70" stroke-linecap="round" fill="none"/>
<path d="M705.4 714.6L716.9 708.9" stroke="#5468a0" stroke-width="2.12" stroke-linecap="round" fill="none"/>
<path d="M640.8 706.5L645.4 705.8" stroke="#5468a0" stroke-width="1.27" stroke-linecap="round" fill="none"/>
<path d="M673.1 737.2L682.3 734.2" stroke="#5468a0" stroke-width="2.12" stroke-linecap="round" fill="none"/>
<path d="M722.7 737.2L727.3 735.8" stroke="#5468a0" stroke-width="1.70" stroke-linecap="round" fill="none"/>
<path d="M603.8 752.7L610.8 751.6" stroke="#5468a0" stroke-width="1.70" stroke-linecap="round" fill="none"/>
<path d="M622.3 748.1L628.0 748.1" stroke="#5468a0" stroke-width="1.70" stroke-linecap="round" fill="none"/>
<path d="M563.5 774.6L569.2 774.1" stroke="#5468a0" stroke-width="1.27" stroke-linecap="round" fill="none"/>
<path d="M671.0 627.0L673.0 629.0" stroke="#5468a0" stroke-width="1.27" stroke-linecap="round" fill="none"/>
<path d="M673.0 634.0L676.0 634.0" stroke="#5468a0" stroke-width="1.27" stroke-linecap="round" fill="none"/>
<path d="M670.0 641.0L674.0 642.0" stroke="#5468a0" stroke-width="1.27" stroke-linecap="round" fill="none"/>
<path d="M678.0 642.0L681.0 642.0" stroke="#5468a0" stroke-width="1.27" stroke-linecap="round" fill="none"/>
<path d="M564.0 602.6L566.0 602.6" stroke="#4a7ab4" stroke-width="1.70" stroke-linecap="round" fill="none"/>
<path d="M575.8 602.7L578.5 603.0" stroke="#4a7ab4" stroke-width="1.70" stroke-linecap="round" fill="none"/>
<path d="M588.0 602.6L589.0 602.6" stroke="#4a7ab4" stroke-width="1.70" stroke-linecap="round" fill="none"/>
<path d="M638.4 611.5L640.0 610.5" stroke="#5468a0" stroke-width="1.70" stroke-linecap="round" fill="none"/>
<path d="M650.0 611.9L651.0 611.9" stroke="#5468a0" stroke-width="1.70" stroke-linecap="round" fill="none"/>
<path d="M657.0 609.6L658.5 609.6" stroke="#12b020" stroke-width="1.70" stroke-linecap="round" fill="none"/>
<path d="M1006.2 521.5L1007.3 527.3" stroke="#5468a0" stroke-width="1.70" stroke-linecap="round" fill="none"/>
<path d="M1013.1 531.9L1015.4 537.7" stroke="#34b860" stroke-width="2.55" stroke-linecap="round" fill="none"/>
<path d="M972.7 574.6L967.0 588.5" stroke="#58acd0" stroke-width="4.25" stroke-linecap="round" fill="none"/>
<path d="M967.0 587.0L965.0 591.0" stroke="#5468a0" stroke-width="0.85" stroke-linecap="round" fill="none"/>
<path d="M913.9 553.8L915.1 556.1" stroke="#5468a0" stroke-width="1.27" stroke-linecap="round" fill="none"/>
<path d="M908.1 565.4L909.3 568.9" stroke="#5468a0" stroke-width="1.70" stroke-linecap="round" fill="none"/>
<path d="M896.5 601.2L891.9 610.4" stroke="#4a7ab4" stroke-width="2.12" stroke-linecap="round" fill="none"/>
<path d="M925.4 601.2L923.1 603.5" stroke="#5468a0" stroke-width="1.27" stroke-linecap="round" fill="none"/>
<path d="M860.8 608.1L855.0 617.3" stroke="#4cb4ac" stroke-width="3.40" stroke-linecap="round" fill="none"/>
<path d="M874.6 618.5L871.2 626.6" stroke="#5468a0" stroke-width="0.85" stroke-linecap="round" fill="none"/>
<path d="M816.9 692.3L814.6 694.6" stroke="#5468a0" stroke-width="1.02" stroke-linecap="round" fill="none"/>
<path d="M826.2 709.6L823.8 714.3" stroke="#5468a0" stroke-width="2.12" stroke-linecap="round" fill="none"/>
<path d="M889.6 733.8L886.2 737.2" stroke="#5468a0" stroke-width="1.70" stroke-linecap="round" fill="none"/>
<path d="M116.5 885.6L124.2 892.2" stroke="#5468a0" stroke-width="1.70" stroke-linecap="round" fill="none"/>
<path d="M132.0 885.6L140.8 891.5" stroke="#5468a0" stroke-width="2.12" stroke-linecap="round" fill="none"/>
<path d="M330.0 797.5L335.5 800.8" stroke="#5468a0" stroke-width="1.27" stroke-linecap="round" fill="none"/>
<path d="M474.3 839.5L489.8 841.7" stroke="#5098c4" stroke-width="2.12" stroke-linecap="round" fill="none"/>
<path d="M494.2 813.0L502.0 814.1" stroke="#5468a0" stroke-width="2.12" stroke-linecap="round" fill="none"/>
<path d="M481.0 784.2L485.4 786.4" stroke="#5468a0" stroke-width="1.27" stroke-linecap="round" fill="none"/>
<path d="M510.8 798.6L516.3 799.3" stroke="#5468a0" stroke-width="1.27" stroke-linecap="round" fill="none"/>
<path d="M545.1 776.5L550.6 777.6" stroke="#5468a0" stroke-width="1.10" stroke-linecap="round" fill="none"/>
<path d="M807.1 864.0L821.0 856.4" stroke="#34b860" stroke-width="2.55" stroke-linecap="round" fill="none"/>
<path d="M830.8 791.1L842.2 784.7" stroke="#4a7ab4" stroke-width="2.12" stroke-linecap="round" fill="none"/>
<path d="M852.4 839.4L858.8 834.9" stroke="#4a7ab4" stroke-width="2.12" stroke-linecap="round" fill="none"/>
<path d="M892.0 789.6L896.5 786.6" stroke="#5468a0" stroke-width="1.27" stroke-linecap="round" fill="none"/>
<path d="M605.2 819.8L612.7 819.8" stroke="#5468a0" stroke-width="2.12" stroke-linecap="round" fill="none"/>
<path d="M648.6 859.1L656.1 858.3" stroke="#5468a0" stroke-width="1.27" stroke-linecap="round" fill="none"/>
<path d="M644.8 882.8L652.4 882.8" stroke="#5468a0" stroke-width="1.27" stroke-linecap="round" fill="none"/>
<path d="M671.0 394.0 L673.6 395.0 L680.4 393.6 L688.5 391.6 L693.2 388.3 L694.5 381.5 L695.2 377.5 L701.9 375.5 L708.6 374.1 L713.4 378.8 L716.7 384.9 L723.4 387.6 L728.8 390.3 L736.9 388.9 L739.6 392.3 L734.2 395.7 L729.5 399.0 L729.5 407.1 L732.9 416.5 L732.2 423.3 L728.2 431.3 L724.8 436.7 L721.4 446.1 L718.1 448.8 L712.7 459.6 M654.7 447.0 L655.5 448.2 L661.5 451.5 L668.3 447.5 L675.7 440.8 L680.4 444.8 L684.4 451.5 L689.8 444.8 L693.2 451.5 L700.6 452.9 L708.6 456.9 L712.7 459.6 L710.8 467.7 L711.3 474.4 L715.4 475.0 L726.1 471.7 L729.0 473.5 L734.8 470.6 L745.4 470.6 L750.2 477.3 L760.8 473.5 L768.5 472.5 L778.0 473.5 L781.9 483.0 L792.5 486.9 L797.3 491.7 L804.0 496.5 L806.0 506.2 L792.5 509.0 L783.8 515.8 L778.0 523.5 L774.2 533.1 L772.3 535.0 M729.0 473.5 L728.8 478.4 L724.8 483.8 L719.4 488.8 L718.1 493.2 L716.7 500.0 L715.6 502.3 L719.4 510.0 L718.5 519.6 L720.4 531.2 L731.9 533.1 L741.5 531.2 L749.2 535.0 L772.3 535.0 L780.0 536.9 L785.4 537.4 L802.3 540.5 L808.7 550.0 L812.9 560.6 L816.1 564.9 L823.5 565.9 L829.8 569.1 L837.2 575.4 L840.0 578.0 M686.7 525.4 L695.4 529.2 L705.0 525.4 L714.6 521.5 L718.5 519.6 M749.2 535.0 L751.2 552.3 L741.5 550.4 L734.8 561.9 L722.3 571.5 L720.4 575.4 L722.3 583.1 L710.8 586.9 L691.5 594.6 L686.7 592.7 L686.7 599.4 L681.9 590.8 L680.0 589.8 M722.3 583.1 L733.8 580.2 L743.5 580.2 L745.4 586.9 L753.1 592.7 L760.0 592.4 L769.5 600.8 L770.6 611.4 L779.0 607.2 L789.6 604.0 L791.7 605.1 L793.9 616.7 L794.0 619.0 M816.1 564.9 L809.7 571.2 L810.8 579.7 L801.3 582.9 L792.8 588.1 L789.6 598.7 L789.6 604.0 M797.3 491.7 L801.3 481.3 L804.4 470.7 L806.6 463.3 L818.2 462.2 L820.0 462.0 M806.0 506.2 L821.4 518.3 L829.8 514.1 L839.4 506.7 L845.7 508.8 L855.2 515.1 L861.6 512.0 L875.3 514.1 M732.9 416.5 L739.6 408.5 L745.0 403.1 L750.4 397.7 L754.4 398.4 L758.4 403.1 L765.2 403.1 L769.2 401.7 L773.2 407.1 L777.0 406.0 M750.4 397.7 L751.7 404.4 L749.7 413.8 L750.4 420.6 L755.7 428.6 L761.1 435.4 L767.9 440.8 L774.6 446.1 L778.6 450.8 L784.0 444.1 L790.7 442.1 L794.8 442.1 L797.0 442.0" stroke="#808080" stroke-width="1.3" fill="none" stroke-linejoin="round"/>
<clipPath id="ax"><rect x="101.4" y="45.3" width="930.0000000000001" height="924.0"/></clipPath>
<path d="M101.7 229.0 L108.5 225.2 L111.6 231.2 L115.9 233.7 L123.3 241.7 L125.0 247.7 L130.7 247.0 L134.9 250.2 L138.1 254.4 L139.8 260.8 L139.8 265.4 L142.3 266.1 L143.4 271.4 L151.2 272.0 L150.8 267.1 L148.3 262.9 L150.4 259.1 L154.6 260.4 L158.2 264.0 L164.6 265.4 L168.8 273.5 L163.5 278.8 L157.1 284.1 L151.9 291.5 L147.6 292.5 L149.7 299.9 L147.6 313.7 L148.7 316.9 L143.4 323.2 L140.2 329.6 L145.5 331.7 L149.7 328.9 L161.4 328.9 L163.1 338.0 L164.6 342.3 L167.7 349.7 L172.0 356.0 L170.9 360.7 L163.5 364.5 L159.3 367.7 L149.7 369.2 L145.5 376.1 L142.3 383.5 L144.4 389.5 L150.8 391.6 L148.7 397.3 L144.4 401.5 L154.0 403.0 L160.3 406.8 L161.4 412.1 L172.0 410.0 L181.5 407.9 L191.0 407.9 L197.4 405.8 L204.8 408.9 L209.0 413.6 L217.5 413.2 L221.7 414.9 L232.3 417.4 L238.6 420.6 L249.2 415.7 L260.8 415.3 L265.1 411.1 L269.3 405.8 L275.7 404.7 L279.9 399.4 L286.2 397.3 L298.9 395.8 M280.0 399.0 L293.5 397.1 L305.0 393.3 L315.6 392.3 L314.2 384.6 L315.6 373.1 L315.6 363.5 L312.3 360.6 L314.6 351.9 L318.5 346.2 L332.9 339.4 L336.7 327.9 L349.2 321.2 L356.0 313.5 L357.9 319.2 L371.3 320.2 L375.2 326.0 L378.1 327.9 L374.2 330.8 L370.4 335.6 L369.4 341.3 L370.4 349.0 L367.5 350.0 L364.6 345.2 L360.8 347.1 L359.8 357.7 L355.0 362.5 L357.9 365.4 L358.8 370.2 L360.8 372.1 L356.9 377.9 L354.0 383.7 L352.1 396.2 L346.3 401.0 L346.3 409.6 L353.1 412.5 L361.7 414.4 L368.5 422.1 L374.2 428.8 L374.2 440.4 L369.4 450.0 L364.6 454.8 L365.6 461.5 L368.5 467.3 L370.4 475.0 L367.5 481.7 L366.5 486.5 L373.3 488.5 L379.0 490.4 M379.0 490.4 L382.1 490.4 L389.5 489.1 L392.8 487.1 L395.3 483.4 L399.4 482.8 L408.4 483.0 L411.7 486.3 L415.8 492.4 L422.3 496.1 L430.0 499.9 M430.0 499.9 L437.8 499.5 L443.3 508.8 L448.8 519.9 L451.0 523.2 L457.7 521.0 L462.1 525.4 L463.2 533.2 L471.0 532.7 L475.4 533.6 L487.6 535.4 L494.2 531.4 L502.0 539.8 L514.2 551.3 L508.6 557.5 L505.3 563.1 L507.5 569.7 L516.4 567.5 L518.6 561.5 L527.5 565.3 L536.3 570.8 L544.1 579.7 L545.2 586.3 L549.6 590.7 L551.8 595.2 L550.7 600.7 L552.9 606.2 L554.0 612.9 L550.7 615.1 L554.0 618.4 L556.2 623.5 L560.7 619.5 L570.6 617.3 L577.3 615.5 L582.8 609.6 L589.5 608.9 L596.1 612.9 L599.4 619.5 L602.8 610.7 L607.2 604.0 L614.9 598.5 L622.7 600.7 L630.4 602.9 L640.4 602.9 L645.9 600.7 L648.2 594.1 L651.5 593.4 L662.6 599.6 L664.8 600.7 M662.7 602.3 L665.6 600.4 L674.2 595.6 L680.0 589.8 L681.0 582.1 L675.2 579.2 L676.2 575.4 L681.0 566.7 L685.8 558.1 L691.5 557.1 L692.5 544.6 L683.8 540.8 L682.9 532.1 L686.7 525.4 L682.9 519.6 L677.1 516.7 L668.5 516.7 L665.6 506.2 L660.8 494.6 L654.0 486.0 L645.4 484.0 L642.5 471.5 L643.5 460.0 M642.8 480.0 L643.7 461.7 L645.6 451.6 L653.8 449.8 L654.7 446.2 L649.2 441.6 L641.0 436.1 L643.7 428.8 L648.3 419.7 L652.0 410.5 L659.3 407.8 L663.8 404.2 L669.3 401.4 L672.1 397.8 L667.5 389.5 L667.5 384.1 L673.0 377.7 L676.6 366.7 L677.5 360.3 L683.9 355.8 L688.5 350.3 L690.3 343.0 L693.1 338.4 L704.0 331.1 L707.7 324.7 L709.5 313.7 L713.2 311.0 L727.8 307.4 L729.6 312.8 L733.2 316.5 L741.5 318.3 L744.2 316.5 L746.0 311.6 L755.2 312.8 L758.8 317.4 L757.9 326.5 L764.3 328.4 M725.1 45.5 L728.6 53.8 L732.0 59.0 L733.7 54.7 L743.3 57.3 L755.4 56.4 L758.8 60.8 L764.0 72.9 L769.2 80.7 L774.4 88.5 L774.4 95.4 L777.0 101.4 L780.5 98.8 L791.7 99.7 L803.8 101.4 L802.1 106.6 L798.7 113.6 L790.0 119.6 L783.1 127.4 L775.3 133.5 L777.0 142.1 L781.3 144.7 L779.6 148.2 L784.8 152.5 L790.0 162.0 L798.7 159.4 L805.6 158.6 L816.0 160.3 L828.9 165.5 L825.5 169.8 L828.9 178.5 L836.7 181.1 L837.6 190.6 L835.0 201.0 L832.4 209.6 L828.1 214.8 M732.9 45.5 L733.7 54.7 M826.9 214.6 L833.1 222.3 L838.5 227.7 L844.6 232.3 L846.9 237.7 L846.2 240.8 L840.0 241.5 L835.4 244.6 L832.3 248.5 L826.9 243.8 L823.1 241.5 L816.9 242.3 L813.1 247.7 L810.0 255.4 L810.0 263.1 L804.6 266.9 L798.5 267.7 L789.2 271.5 L783.1 276.9 L780.0 281.5 L774.6 283.8 L773.1 289.2 L776.9 293.8 L777.7 300.0 L779.2 307.7 L773.1 308.5 L766.2 310.0 L763.8 313.8 L763.1 320.0 L758.5 323.1 L756.9 326.9 L760.8 329.2 L766.9 327.7 L768.5 323.1 L765.4 320.0 L761.5 323.1 L761.5 332.3 L761.5 341.5 L760.0 347.7 L758.5 360.0 M764.3 328.4 L760.6 337.5 L758.8 346.6 L757.9 355.8 L756.1 363.1 L758.8 368.5 L761.6 375.8 L762.5 383.2 L766.1 390.5 L768.9 395.9 L774.3 401.4 L778.0 406.0 L780.7 410.5 L786.2 414.2 L790.8 417.9 L792.6 432.5 L797.2 441.6 L804.5 448.0 L811.8 450.7 L818.2 454.4 L820.0 465.3 M796.0 440.0 L805.5 446.3 L814.0 451.6 L819.3 456.9 L820.3 465.4 L823.5 466.5 L824.6 461.2 L832.0 460.1 L841.5 468.6 L851.0 477.0 L857.4 479.2 L865.8 473.9 L872.2 478.1 L878.5 480.2 L881.7 478.1 L885.9 481.3 L880.6 485.5 L877.5 488.7 L880.6 497.1 L878.5 503.5 L876.4 507.7 L875.3 516.2 L880.6 519.4 L877.5 523.6 L867.9 529.9 L859.5 537.4 L853.1 545.8 L857.4 550.1 L853.1 564.9 L846.8 573.3 L838.3 578.6 L836.2 585.0 L832.0 588.1 L838.3 593.4 L839.4 600.8 L833.0 609.3 L833.0 626.2 L834.1 640.0 M662.7 602.3 L663.7 603.3 L669.4 604.2 L670.4 611.9 L675.2 617.7 L685.8 621.5 L691.5 621.9 L702.1 622.5 M702.1 622.5 L710.3 625.6 L712.6 635.9 L714.9 641.6 L723.0 642.2 L733.3 646.2 L739.0 638.2 L743.6 638.2 L751.7 643.4 L752.8 637.0 L758.6 633.6 L762.0 626.7 L768.9 624.4 L770.1 619.8 L774.7 618.1 L788.4 617.5 L796.5 616.4 L805.7 619.8 L809.1 626.7 L813.7 630.2 L820.6 633.6 L825.2 637.0 L834.1 640.0 M834.1 640.0 L843.6 637.9 L851.0 633.7 L857.4 636.8 L864.8 640.0 L872.2 644.2 L880.6 649.5 L887.0 653.8 L893.3 660.1 M842.1 638.2 L847.3 636.4 L851.6 633.0 L855.1 635.6 L860.3 638.2 L864.6 638.2 L870.7 644.2 L875.9 646.0 L881.1 650.3 L887.1 652.9 L892.3 659.0 L888.0 661.6 L887.1 665.9 L891.5 671.1 L898.4 673.7 L902.7 675.4 L902.7 682.3 L907.0 684.1 L902.7 691.0 L897.5 687.5 L894.9 690.1 L897.5 696.2 L902.7 699.6 L904.4 704.8 L910.5 712.6 L917.4 717.0 L923.5 722.1 L928.7 723.9 L926.1 731.7 L927.8 735.1 L933.9 738.6 L933.9 744.7 L935.6 752.4 L943.4 751.6 L946.0 756.8 L945.1 762.0 L940.8 767.2 L944.3 773.2 L949.5 777.5 L956.4 776.7 L962.4 775.8 L968.5 779.3 L978.9 782.7 L983.2 780.1 L982.4 775.0 L987.5 772.4 L985.8 764.6 L982.4 758.5 L979.8 754.2 L987.5 749.8 L991.9 753.3 L997.1 755.9 L1003.1 753.3 L1006.6 749.8 L1010.9 750.7 L1017.0 758.5 L1022.2 756.8 L1030.8 762.8" stroke="#000" stroke-width="3.3" fill="none" stroke-linejoin="round" stroke-linecap="round" clip-path="url(#ax)"/>
<circle cx="568.3" cy="429.5" r="5.6" fill="#f01010" stroke="#000" stroke-width="0.9"/>
<rect x="107.5" y="51.6" width="266" height="49.7" fill="#fff" stroke="#000" stroke-width="1.1"/>
<text transform="translate(112.49 70.60) scale(0.1892 0.1826)" font-size="100">Product: Maximum Reflectivity</text>
<text transform="translate(112.56 91.90) scale(0.1805 0.1841)" font-size="100">Data: RMIB</text>
<rect x="101.4" y="45.3" width="930.0000000000001" height="924.0" fill="none" stroke="#000" stroke-width="1.1"/>
<path d="M101.4 969.3v4.9M256.4 969.3v4.9M411.4 969.3v4.9M566.4 969.3v4.9M721.4 969.3v4.9M876.4 969.3v4.9M1031.4 969.3v4.9M101.4 969.3h-4.9M101.4 853.8h-4.9M101.4 738.3h-4.9M101.4 622.8h-4.9M101.4 507.3h-4.9M101.4 391.8h-4.9M101.4 276.3h-4.9M101.4 160.8h-4.9M101.4 45.3h-4.9" stroke="#000" stroke-width="1.1" fill="none"/>
<text transform="translate(88.14 992.80) scale(0.1805 0.1857)" font-size="100">4.0</text>
<text transform="translate(243.14 992.80) scale(0.1805 0.1857)" font-size="100">4.5</text>
<text transform="translate(397.96 992.80) scale(0.1805 0.1857)" font-size="100">5.0</text>
<text transform="translate(552.96 992.80) scale(0.1805 0.1857)" font-size="100">5.5</text>
<text transform="translate(707.87 992.80) scale(0.1805 0.1857)" font-size="100">6.0</text>
<text transform="translate(862.87 992.80) scale(0.1805 0.1857)" font-size="100">6.5</text>
<text transform="translate(1017.87 992.80) scale(0.1805 0.1857)" font-size="100">7.0</text>
<text transform="translate(44.16 976.10) scale(0.1835 0.1857)" font-size="100">48.75</text>
<text transform="translate(44.16 860.60) scale(0.1835 0.1857)" font-size="100">49.00</text>
<text transform="translate(44.16 745.10) scale(0.1835 0.1857)" font-size="100">49.25</text>
<text transform="translate(44.16 629.60) scale(0.1835 0.1857)" font-size="100">49.50</text>
<text transform="translate(44.16 514.10) scale(0.1835 0.1857)" font-size="100">49.75</text>
<text transform="translate(44.16 398.60) scale(0.1835 0.1857)" font-size="100">50.00</text>
<text transform="translate(44.16 283.10) scale(0.1835 0.1857)" font-size="100">50.25</text>
<text transform="translate(44.16 167.60) scale(0.1835 0.1857)" font-size="100">50.50</text>
<text transform="translate(44.16 52.10) scale(0.1835 0.1857)" font-size="100">50.75</text>
<text transform="translate(492.10 1024.80) scale(0.3129 0.3029)" font-size="100">Longitude</text>
<text transform="translate(33.80 566.44) rotate(-90) scale(0.3172 0.3029)" font-size="100">Latitude</text>
<text transform="translate(302.86 38.10) scale(0.3883 0.3786)" font-size="100">25.12.2025 20:20 - 20:24 UTC</text>
<rect x="1089.5" y="893.31" width="41.0" height="29.99" fill="#6474a4"/>
<rect x="1089.5" y="863.63" width="41.0" height="29.99" fill="#5468a0"/>
<rect x="1089.5" y="833.94" width="41.0" height="29.99" fill="#4860a0"/>
<rect x="1089.5" y="804.26" width="41.0" height="29.99" fill="#4a7ab4"/>
<rect x="1089.5" y="774.57" width="41.0" height="29.99" fill="#5098c4"/>
<rect x="1089.5" y="744.89" width="41.0" height="29.99" fill="#64c0dc"/>
<rect x="1089.5" y="715.20" width="41.0" height="29.99" fill="#64d8c8"/>
<rect x="1089.5" y="685.51" width="41.0" height="29.99" fill="#40d474"/>
<rect x="1089.5" y="655.83" width="41.0" height="29.99" fill="#14c81c"/>
<rect x="1089.5" y="626.14" width="41.0" height="29.99" fill="#12b422"/>
<rect x="1089.5" y="596.46" width="41.0" height="29.99" fill="#10a820"/>
<rect x="1089.5" y="566.77" width="41.0" height="29.99" fill="#0c8c18"/>
<rect x="1089.5" y="537.09" width="41.0" height="29.99" fill="#0a7a12"/>
<rect x="1089.5" y="507.40" width="41.0" height="29.99" fill="#0a5c10"/>
<rect x="1089.5" y="477.71" width="41.0" height="29.99" fill="#4a7a10"/>
<rect x="1089.5" y="448.03" width="41.0" height="29.99" fill="#b0b010"/>
<rect x="1089.5" y="418.34" width="41.0" height="29.99" fill="#ffd800"/>
<rect x="1089.5" y="388.66" width="41.0" height="29.99" fill="#ffb000"/>
<rect x="1089.5" y="358.97" width="41.0" height="29.99" fill="#ff9400"/>
<rect x="1089.5" y="329.29" width="41.0" height="29.99" fill="#ff7800"/>
<rect x="1089.5" y="299.60" width="41.0" height="29.99" fill="#e60000"/>
<rect x="1089.5" y="269.91" width="41.0" height="29.99" fill="#c40000"/>
<rect x="1089.5" y="240.23" width="41.0" height="29.99" fill="#a00000"/>
<rect x="1089.5" y="210.54" width="41.0" height="29.99" fill="#7a0000"/>
<rect x="1089.5" y="180.86" width="41.0" height="29.99" fill="#ffdcff"/>
<rect x="1089.5" y="151.17" width="41.0" height="29.99" fill="#ffaaff"/>
<rect x="1089.5" y="121.49" width="41.0" height="29.99" fill="#ff66ff"/>
<rect x="1089.5" y="91.80" width="41.0" height="29.99" fill="#ee36ee"/>
<rect x="1089.5" y="91.8" width="41.0" height="831.2" fill="none" stroke="#000" stroke-width="1.1"/>
<text transform="translate(1140.90 933.90) scale(0.3010 0.2986)" font-size="100">0</text>
<text transform="translate(1139.69 815.16) scale(0.3010 0.2986)" font-size="100">10</text>
<text transform="translate(1140.59 696.41) scale(0.3010 0.2986)" font-size="100">20</text>
<text transform="translate(1140.90 577.67) scale(0.3010 0.2986)" font-size="100">30</text>
<text transform="translate(1141.50 458.93) scale(0.3010 0.2986)" font-size="100">40</text>
<text transform="translate(1140.90 340.19) scale(0.3010 0.2986)" font-size="100">50</text>
<text transform="translate(1140.59 221.44) scale(0.3010 0.2986)" font-size="100">60</text>
<text transform="translate(1140.59 102.70) scale(0.3010 0.2986)" font-size="100">70</text>
<path d="M1130.5 923.0h4.9M1130.5 804.3h4.9M1130.5 685.5h4.9M1130.5 566.8h4.9M1130.5 448.0h4.9M1130.5 329.3h4.9M1130.5 210.5h4.9M1130.5 91.8h4.9" stroke="#000" stroke-width="1.1" fill="none"/>
<text transform="translate(1204.00 536.38) rotate(-90) scale(0.2960 0.3029)" font-size="100">dBZ</text>
</svg></body></html>
